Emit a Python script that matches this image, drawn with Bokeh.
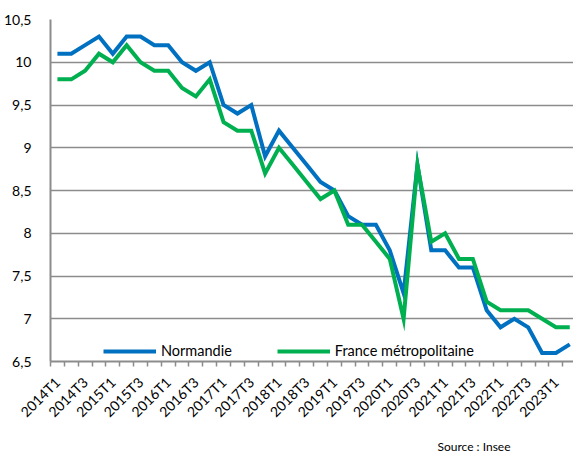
from bokeh.plotting import figure
from bokeh.models import FixedTicker, Legend, LegendItem, Title, Range1d
from bokeh.embed import file_html
from bokeh.resources import INLINE

quarters = ["2014T1", "2014T2", "2014T3", "2014T4",
            "2015T1", "2015T2", "2015T3", "2015T4",
            "2016T1", "2016T2", "2016T3", "2016T4",
            "2017T1", "2017T2", "2017T3", "2017T4",
            "2018T1", "2018T2", "2018T3", "2018T4",
            "2019T1", "2019T2", "2019T3", "2019T4",
            "2020T1", "2020T2", "2020T3", "2020T4",
            "2021T1", "2021T2", "2021T3", "2021T4",
            "2022T1", "2022T2", "2022T3", "2022T4",
            "2023T1", "2023T2"]

normandie = [10.1, 10.1, 10.2, 10.3, 10.1, 10.3, 10.3, 10.2, 10.2, 10.0,
             9.9, 10.0, 9.5, 9.4, 9.5, 8.9, 9.2, 9.0, 8.8, 8.6,
             8.5, 8.2, 8.1, 8.1, 7.8, 7.3, 8.8, 7.8, 7.8, 7.6,
             7.6, 7.1, 6.9, 7.0, 6.9, 6.6, 6.6, 6.7]

france = [9.8, 9.8, 9.9, 10.1, 10.0, 10.2, 10.0, 9.9, 9.9, 9.7,
          9.6, 9.8, 9.3, 9.2, 9.2, 8.7, 9.0, 8.8, 8.6, 8.4,
          8.5, 8.1, 8.1, 7.9, 7.7, 7.0, 8.8, 7.9, 8.0, 7.7,
          7.7, 7.2, 7.1, 7.1, 7.1, 7.0, 6.9, 6.9]

y_ticks = [6.5, 7, 7.5, 8, 8.5, 9, 9.5, 10, 10.5]
y_labels = ["6,5", "7", "7,5", "8", "8,5", "9", "9,5", "10", "10,5"]

FONT = "Lato"
GRID = "#8c8c8c"
BLUE = "#0070C0"
GREEN = "#00B050"

idx = list(range(len(quarters)))

p = figure(width=573, height=461, output_backend="svg", toolbar_location=None,
           x_range=Range1d(-0.5, 37.27), y_range=Range1d(6.5, 10.5),
           min_border_left=48, min_border_right=0, min_border_top=19,
           min_border_bottom=100)
p.outline_line_color = None
p.background_fill_color = "white"

r_n = p.line(idx, normandie, line_color=BLUE, line_width=4, line_join="miter")
r_f = p.line(idx, france, line_color=GREEN, line_width=4, line_join="miter")

# x axis
xt = FixedTicker(ticks=idx[::2], minor_ticks=[i - 0.5 for i in idx])
p.xaxis.ticker = xt
p.xaxis.major_label_overrides = {i: quarters[i] for i in idx[::2]}
p.xaxis.major_label_orientation = 0.7854
p.xaxis.major_tick_line_color = None
p.xaxis.minor_tick_line_color = GRID
p.xaxis.minor_tick_line_width = 1.5
p.xaxis.minor_tick_in = 0
p.xaxis.minor_tick_out = 5
p.xaxis.axis_line_color = GRID
p.xaxis.axis_line_width = 2
p.xaxis.major_label_text_font = FONT
p.xaxis.major_label_text_font_size = "14px"
p.xaxis.major_label_text_color = "black"
p.xaxis.major_label_standoff = 12

# y axis
p.yaxis.ticker = FixedTicker(ticks=y_ticks)
p.yaxis.major_label_overrides = {t: l for t, l in zip(y_ticks, y_labels)}
p.yaxis.major_tick_line_color = None
p.yaxis.minor_tick_line_color = None
p.yaxis.axis_line_color = GRID
p.yaxis.axis_line_width = 2
p.yaxis.major_label_text_font = FONT
p.yaxis.major_label_text_font_size = "14px"
p.yaxis.major_label_text_color = "black"
p.yaxis.major_label_standoff = 13

p.xgrid.grid_line_color = None
p.ygrid.ticker = FixedTicker(ticks=y_ticks)
p.ygrid.grid_line_color = GRID
p.ygrid.grid_line_width = 1.5

legend = Legend(items=[LegendItem(label="Normandie", renderers=[r_n]),
                       LegendItem(label="France métropolitaine", renderers=[r_f])],
                orientation="horizontal", location=(53, 2),
                padding=0, margin=0, spacing=45, label_standoff=5,
                glyph_width=53, glyph_height=16,
                label_text_font=FONT, label_text_font_size="14.5px",
                label_text_color="black",
                background_fill_alpha=0, border_line_color=None)
p.add_layout(legend, "center")

src = Title(text="Source : Insee", align="right", offset=63,
            text_font=FONT, text_font_size="12px", text_font_style="normal",
            text_color="black", standoff=15, vertical_align="bottom")
p.add_layout(src, "below")

open("out.html", "w").write(file_html(p, INLINE))
